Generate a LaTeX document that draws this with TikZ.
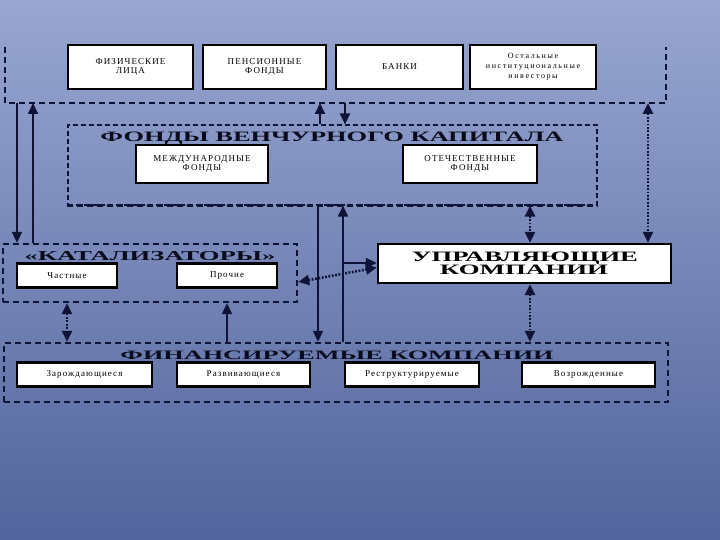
\documentclass[tikz,border=0pt]{standalone}
\usepackage{fontspec}
\usepackage{graphicx}
\setmainfont{Liberation Serif}
\newfontfamily\spf[LetterSpace=12]{Liberation Serif}
\newfontfamily\spw[LetterSpace=20]{Liberation Serif}
\usetikzlibrary{arrows.meta}
\definecolor{navy}{RGB}{14,20,55}
\definecolor{ink}{RGB}{8,10,30}
\definecolor{bgtop}{RGB}{152,166,208}
\definecolor{bgbot}{RGB}{82,100,156}
\newcommand\ttlfit[3]{\resizebox{#1pt}{#2pt}{\bfseries #3}}
\begin{document}
\begin{tikzpicture}[x=1pt,y=-1pt,
  box/.style={draw=black, line width=2.4pt, fill=white, inner sep=0, align=center,
    font=\spf\fontsize{9}{9.5}\selectfont},
  frm/.style={draw=navy, line width=2.4pt, dash pattern=on 6pt off 4pt, inner sep=0},
  thinfrm/.style={draw=navy, line width=1.1pt, dash pattern=on 5pt off 3pt, inner sep=0},
  ln/.style={draw=navy, line width=2pt},
  dt/.style={draw=navy, line width=2.6pt, dash pattern=on 1.8pt off 1.6pt},
  tip/.style={-{Triangle[width=10pt,length=11pt]}},
  dbl/.style={{Triangle[width=10pt,length=11pt]}-{Triangle[width=10pt,length=11pt]}},
  ttl/.style={inner sep=0, anchor=base, text=ink}
]
\useasboundingbox (0,0) rectangle (720,540);
\fill[top color=bgtop, bottom color=bgbot] (0,0) rectangle (720,540);

% top frame (open)
\draw[frm] (5,47) -- (5,103) -- (666,103) -- (666,47);
\coordinate (L1) at (17,103);
\coordinate (L2) at (33,103);
\coordinate (T1) at (320,103);
\coordinate (T2) at (345,103);
\coordinate (T3) at (648,103);

% top boxes
\node[box, minimum width=125, minimum height=44] (fiz) at (130.5,67) {ФИЗИЧЕСКИЕ\\ЛИЦА};
\node[box, minimum width=123, minimum height=44] (pen) at (264.5,67) {ПЕНСИОННЫЕ\\ФОНДЫ};
\node[box, minimum width=127, minimum height=44] (ban) at (399.5,67) {БАНКИ};
\node[box, minimum width=126, minimum height=44, font=\spw\fontsize{8}{10}\selectfont] (ost) at (533,67) {Остальные\\институциональные\\инвесторы};

% venture frame
\node[thinfrm, minimum width=529, minimum height=80] (vcf) at (332.5,165) {};
\draw[frm] (vcf.south west) -- (vcf.south east);
\node[ttl] (vcft) at (332,142) {\ttlfit{463}{9.5}{ФОНДЫ ВЕНЧУРНОГО КАПИТАЛА}};
\node[box, minimum width=132, minimum height=38] (mej) at (202,164) {МЕЖДУНАРОДНЫЕ\\ФОНДЫ};
\node[box, minimum width=134, minimum height=38] (ote) at (470,164) {ОТЕЧЕСТВЕННЫЕ\\ФОНДЫ};

% catalysts frame
\node[frm, minimum width=294, minimum height=58] (cat) at (150,273) {};
\node[ttl] (catt) at (150,260) {\ttlfit{251}{9}{«КАТАЛИЗАТОРЫ»}};
\node[box, minimum width=100, minimum height=24] (cha) at (67,275.5) {Частные};
\node[box, minimum width=100, minimum height=24] (pro) at (227,275.5) {Прочие};

% management companies
\node[box, minimum width=293, minimum height=39] (upr) at (524.5,263.5) {};
\node[ttl, text=black] (u1) at (525,261) {\ttlfit{226}{9.5}{УПРАВЛЯЮЩИЕ}};
\node[ttl, text=black] (u2) at (524,274) {\ttlfit{168}{9.5}{КОМПАНИИ}};

% financed companies frame
\node[frm, minimum width=664, minimum height=59] (fin) at (336,372.5) {};
\node[ttl] (fint) at (337,359) {\ttlfit{433}{8.5}{ФИНАНСИРУЕМЫЕ КОМПАНИИ}};
\node[box, minimum width=135, minimum height=24] (zar) at (84.5,374.5) {Зарождающиеся};
\node[box, minimum width=133, minimum height=24] (raz) at (243.5,374.5) {Развивающиеся};
\node[box, minimum width=134, minimum height=24] (res) at (412,374.5) {Реструктурируемые};
\node[box, minimum width=133, minimum height=24] (voz) at (588.5,374.5) {Возрожденные};

% connector x positions
\coordinate (V1) at (318,0);
\coordinate (V2) at (343,0);
\coordinate (V3) at (530,0);
\coordinate (V4) at (67,0);
\coordinate (V5) at (227,0);
\coordinate (H1) at (343,263);
\coordinate (C1) at (0,282);

% connectors
\draw[ln,tip] (L1) -- (L1 |- cat.north);
\draw[ln,tip] (cat.north -| L2) -- (L2);
\draw[ln,tip] (vcf.north -| T1) -- (T1);
\draw[ln,tip] (T2) -- (vcf.north -| T2);
\draw[dt,dbl] (T3) -- (upr.north -| T3);
\draw[ln,tip] (vcf.south -| V1) -- (fin.north -| V1);
\draw[ln,tip] (fin.north -| V2) -- (vcf.south -| V2);
\draw[ln,tip] (H1) -- (upr.west |- H1);
\draw[dt,dbl] (cat.east |- C1) -- ([yshift=-4pt]upr.west);
\draw[dt,dbl] (vcf.south -| V3) -- (upr.north -| V3);
\draw[dt,dbl] (upr.south -| V3) -- (fin.north -| V3);
\draw[dt,dbl] (cat.south -| V4) -- (fin.north -| V4);
\draw[ln,tip] (fin.north -| V5) -- (cat.south -| V5);
\end{tikzpicture}
\end{document}
